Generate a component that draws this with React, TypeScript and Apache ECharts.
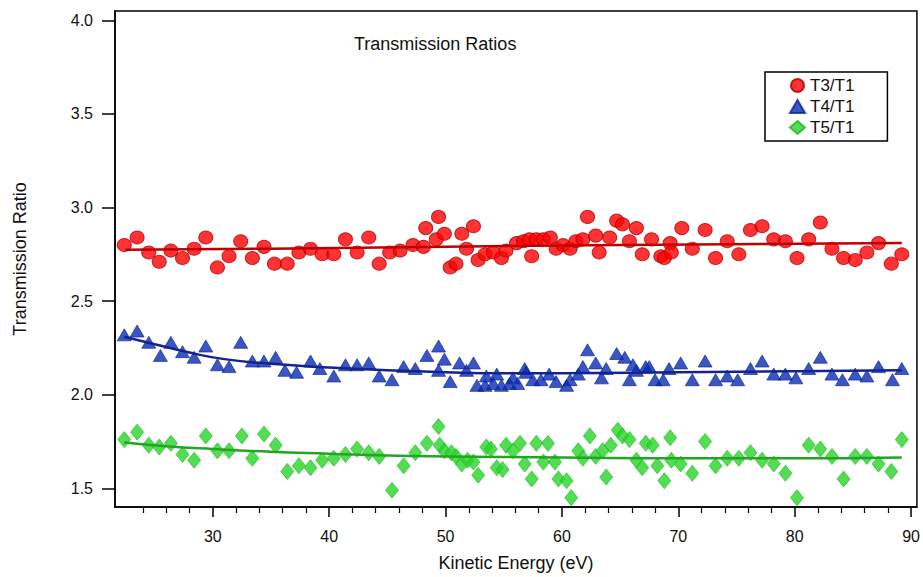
import React, { useEffect, useRef } from "react";
import * as echarts from "echarts";

// ---- Data ----
const seriesNames = ["T3/T1", "T4/T1", "T5/T1"];

const t3Points: [number, number][] = [
  [22.4, 2.8], [23.5, 2.84], [24.5, 2.76], [25.4, 2.71], [26.4, 2.77], [27.4, 2.73], [28.4, 2.78],
  [29.4, 2.84], [30.4, 2.68], [31.4, 2.74], [32.4, 2.82], [33.4, 2.73], [34.4, 2.79], [35.3, 2.7],
  [36.4, 2.7], [37.4, 2.76], [38.4, 2.78], [39.4, 2.75], [40.4, 2.75], [41.4, 2.83], [42.4, 2.76],
  [43.4, 2.84], [44.3, 2.7], [45.2, 2.76], [46.1, 2.77], [47.2, 2.8], [48.1, 2.79], [48.3, 2.89],
  [49.2, 2.83], [49.4, 2.95], [49.9, 2.86], [50.4, 2.68], [50.9, 2.7], [51.4, 2.86], [51.8, 2.78],
  [52.4, 2.9], [52.8, 2.72], [53.4, 2.75], [54.1, 2.76], [54.8, 2.73], [55.2, 2.77], [56.1, 2.81],
  [56.7, 2.82], [57.2, 2.83], [57.4, 2.74], [57.8, 2.83], [58.4, 2.83], [59.0, 2.84], [59.5, 2.78],
  [60.1, 2.8], [60.7, 2.78], [61.2, 2.82], [61.8, 2.83], [62.2, 2.95], [62.9, 2.85], [63.2, 2.76],
  [64.1, 2.84], [64.7, 2.93], [65.2, 2.91], [65.8, 2.82], [66.4, 2.89], [66.9, 2.75], [67.7, 2.83],
  [68.5, 2.74], [68.8, 2.73], [69.3, 2.81], [69.4, 2.76], [70.3, 2.89], [71.2, 2.78], [72.3, 2.88],
  [73.2, 2.73], [74.2, 2.82], [75.2, 2.75], [76.2, 2.88], [77.2, 2.9], [78.2, 2.83], [79.2, 2.82],
  [80.2, 2.73], [81.2, 2.83], [82.2, 2.92], [83.2, 2.78], [84.2, 2.73], [85.2, 2.72], [86.2, 2.76],
  [87.2, 2.81], [88.3, 2.7], [89.2, 2.75],
];

const t4Points: [number, number][] = [
  [22.4, 2.32], [23.5, 2.34], [24.5, 2.28], [25.5, 2.21], [26.4, 2.28], [27.4, 2.23], [28.4, 2.2],
  [29.4, 2.26], [30.4, 2.16], [31.4, 2.15], [32.4, 2.28], [33.4, 2.18], [34.4, 2.18], [35.4, 2.2],
  [36.2, 2.13], [37.2, 2.12], [38.4, 2.18], [39.2, 2.14], [40.4, 2.1], [41.4, 2.16], [42.4, 2.16],
  [43.4, 2.17], [44.3, 2.1], [45.4, 2.08], [46.4, 2.15], [47.4, 2.14], [48.4, 2.21], [49.4, 2.26],
  [49.4, 2.13], [49.9, 2.19], [50.4, 2.07], [51.2, 2.17], [51.8, 2.13], [52.4, 2.17], [52.7, 2.05],
  [53.4, 2.05], [53.5, 2.1], [54.1, 2.06], [54.4, 2.11], [54.8, 2.05], [55.5, 2.06], [55.8, 2.09],
  [56.2, 2.06], [56.8, 2.14], [56.9, 2.12], [57.5, 2.08], [58.2, 2.08], [58.9, 2.11], [59.5, 2.07],
  [60.4, 2.05], [60.7, 2.08], [61.4, 2.11], [61.8, 2.15], [62.2, 2.24], [62.9, 2.17], [63.4, 2.09],
  [63.8, 2.14], [64.7, 2.22], [65.4, 2.2], [65.8, 2.08], [66.1, 2.16], [66.4, 2.13], [67.2, 2.15],
  [67.5, 2.15], [68.0, 2.08], [68.7, 2.08], [69.2, 2.14], [70.2, 2.17], [71.2, 2.08], [72.3, 2.18],
  [73.2, 2.08], [74.2, 2.1], [75.1, 2.08], [76.2, 2.14], [77.2, 2.18], [78.2, 2.11], [79.2, 2.11],
  [80.1, 2.09], [81.2, 2.14], [82.2, 2.2], [83.2, 2.11], [84.1, 2.08], [85.2, 2.11], [86.2, 2.1],
  [87.2, 2.15], [88.4, 2.08], [89.2, 2.14],
];

const t5Points: [number, number][] = [
  [22.4, 1.76], [23.5, 1.8], [24.5, 1.73], [25.4, 1.72], [26.4, 1.74], [27.4, 1.68], [28.4, 1.65],
  [29.4, 1.78], [30.4, 1.7], [31.4, 1.7], [32.5, 1.78], [33.4, 1.66], [34.4, 1.79], [35.4, 1.73],
  [36.4, 1.59], [37.4, 1.62], [38.4, 1.61], [39.4, 1.65], [40.4, 1.66], [41.4, 1.68], [42.4, 1.71],
  [43.4, 1.69], [44.3, 1.67], [45.4, 1.49], [46.4, 1.62], [47.4, 1.69], [48.4, 1.74], [49.4, 1.83],
  [49.5, 1.73], [49.9, 1.7], [50.5, 1.69], [50.9, 1.67], [51.4, 1.63], [51.9, 1.65], [52.4, 1.64],
  [52.8, 1.57], [53.5, 1.72], [53.9, 1.71], [54.4, 1.61], [54.9, 1.6], [55.2, 1.73], [55.8, 1.7],
  [56.4, 1.74], [56.8, 1.63], [57.4, 1.55], [57.8, 1.74], [58.4, 1.64], [58.8, 1.74], [59.4, 1.64],
  [59.7, 1.55], [60.4, 1.54], [60.8, 1.45], [61.4, 1.7], [61.8, 1.66], [62.4, 1.78], [62.9, 1.67],
  [63.5, 1.7], [63.8, 1.56], [64.2, 1.73], [64.8, 1.81], [65.2, 1.78], [65.8, 1.76], [66.4, 1.65],
  [66.9, 1.61], [67.2, 1.74], [67.8, 1.73], [68.2, 1.62], [68.8, 1.54], [69.3, 1.77], [69.4, 1.65],
  [70.2, 1.63], [71.2, 1.58], [72.3, 1.75], [73.2, 1.62], [74.2, 1.66], [75.2, 1.66], [76.2, 1.69],
  [77.2, 1.65], [78.2, 1.63], [79.2, 1.58], [80.2, 1.45], [81.2, 1.73], [82.2, 1.71], [83.2, 1.67],
  [84.2, 1.55], [85.2, 1.67], [86.2, 1.67], [87.2, 1.63], [88.3, 1.59], [89.2, 1.76],
];

// fitted curves
const t3Fit: [number, number][] = [
  [22.5, 2.775], [35, 2.78], [50, 2.79], [65, 2.8], [89.2, 2.81],
];
const t4Fit: [number, number][] = [
  [22.4, 2.31], [25, 2.27], [28, 2.225], [31, 2.19], [35, 2.165], [40, 2.145], [45, 2.13],
  [50, 2.12], [55, 2.115], [60, 2.115], [70, 2.12], [80, 2.125], [89.2, 2.13],
];
const t5Fit: [number, number][] = [
  [22.4, 1.745], [26, 1.725], [30, 1.71], [35, 1.695], [40, 1.685], [45, 1.675], [50, 1.67],
  [60, 1.665], [70, 1.66], [80, 1.66], [89.2, 1.665],
];

const xMajorTicks = [30, 40, 50, 60, 70, 80, 90];
const xMinorTicks = [24, 26, 28, 32, 34, 36, 38, 42, 44, 46, 48, 52, 54, 56, 58, 62, 64, 66, 68, 72, 74, 76, 78, 82, 84, 86, 88];
const yTicks = [1.5, 2.0, 2.5, 3.0, 3.5, 4.0];

const FONT = "'Liberation Sans', Arial, Helvetica, sans-serif";

export default function App() {
  const ref = useRef<HTMLDivElement>(null);

  useEffect(() => {
    if (!ref.current) return;
    const chart = echarts.init(ref.current, null, { renderer: "svg" });
    const xMin = 21.6;
    const xMax = 90.5;
    chart.setOption({
      animation: false,
      backgroundColor: "#ffffff",
      textStyle: { fontFamily: FONT },
      title: {
        text: "Transmission Ratios",
        left: 349,
        top: 30,
        textStyle: { fontSize: 18, fontWeight: "normal", color: "#111", fontFamily: FONT },
      },
      legend: {
        data: seriesNames,
        orient: "vertical",
        left: 765,
        top: 72,
        itemGap: 4,
        itemWidth: 15,
        itemHeight: 13,
        padding: [5, 33, 5, 24],
        borderColor: "#000",
        borderWidth: 1.5,
        textStyle: { fontSize: 17, color: "#111", fontFamily: FONT },
      },
      grid: {
        left: 115,
        right: 5,
        top: 11,
        bottom: 66,
        show: true,
        borderColor: "#000",
        borderWidth: 1.5,
        backgroundColor: "transparent",
      },
      xAxis: [
        {
          type: "value",
          position: "bottom",
          min: xMin,
          max: xMax,
          name: "Kinetic Energy (eV)",
          nameLocation: "middle",
          nameGap: 47,
          nameTextStyle: { fontSize: 18, color: "#111", fontFamily: FONT },
          axisLine: { show: true, lineStyle: { color: "#000", width: 1.5 } },
          axisTick: { show: true, customValues: xMajorTicks, length: 10, inside: false, lineStyle: { color: "#000", width: 1.5 } },
          axisLabel: { customValues: xMajorTicks, margin: 21, fontSize: 16, color: "#111", fontFamily: FONT },
          splitLine: { show: false },
        },
        {
          type: "value",
          position: "bottom",
          gridIndex: 0,
          min: xMin,
          max: xMax,
          axisLine: { show: false },
          axisTick: { show: true, customValues: xMinorTicks, length: 6, inside: false, lineStyle: { color: "#000", width: 1.2 } },
          axisLabel: { show: false },
          splitLine: { show: false },
        },
      ],
      yAxis: {
        type: "value",
        min: 1.4,
        max: 4.05,
        name: "Transmission Ratio",
        nameLocation: "middle",
        nameGap: 86,
        nameTextStyle: { fontSize: 18, color: "#111", fontFamily: FONT },
        axisLine: { show: true, lineStyle: { color: "#000", width: 1.5 } },
        axisTick: { show: true, customValues: yTicks, length: 13, lineStyle: { color: "#000", width: 1.5 } },
        axisLabel: {
          customValues: yTicks,
          margin: 22,
          fontSize: 16,
          color: "#111",
          fontFamily: FONT,
          formatter: (v: number) => v.toFixed(1),
        },
        splitLine: { show: false },
      },
      series: [
        {
          name: seriesNames[0],
          type: "scatter",
          data: t3Points,
          symbol: "circle",
          symbolSize: [14, 13],
          itemStyle: { color: "#ff0000", borderColor: "#b00000", borderWidth: 1 },
          z: 3,
        },
        {
          name: seriesNames[1],
          type: "scatter",
          data: t4Points,
          symbol: "triangle",
          symbolSize: [14, 12],
          itemStyle: { color: "#0a2cb5", borderColor: "#0a2490", borderWidth: 0.8 },
          z: 3,
        },
        {
          name: seriesNames[2],
          type: "scatter",
          data: t5Points,
          symbol: "diamond",
          symbolSize: [13, 16],
          itemStyle: { color: "#28d428", borderColor: "#1fb51f", borderWidth: 0.8 },
          z: 3,
        },
        {
          name: "T3 fit",
          type: "line",
          data: t3Fit,
          smooth: true,
          showSymbol: false,
          lineStyle: { color: "#c00000", width: 2.5 },
          z: 4,
        },
        {
          name: "T4 fit",
          type: "line",
          data: t4Fit,
          smooth: true,
          showSymbol: false,
          lineStyle: { color: "#14238f", width: 2.5 },
          z: 4,
        },
        {
          name: "T5 fit",
          type: "line",
          data: t5Fit,
          smooth: true,
          showSymbol: false,
          lineStyle: { color: "#22a522", width: 2.5 },
          z: 4,
        },
      ],
    });
    return () => chart.dispose();
  }, []);

  return (
    <div
      ref={ref}
      style={{ position: "fixed", left: 0, top: 0, width: 923, height: 577, background: "#fff" }}
    />
  );
}
